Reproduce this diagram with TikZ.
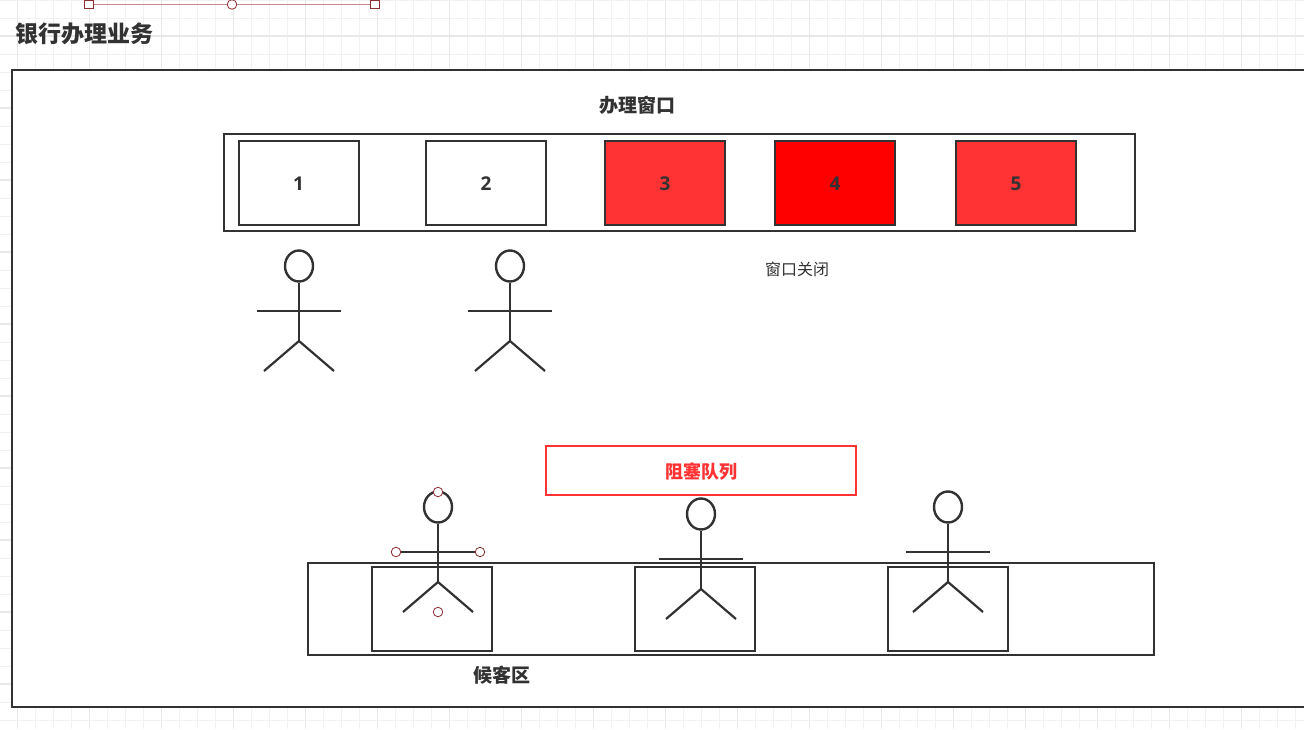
\documentclass[tikz,border=0pt]{standalone}
\usepackage{fontspec}
\setmainfont{Noto Sans CJK SC}
\newfontfamily\digitfont{Open Sans}
\usetikzlibrary{shapes.geometric}
\definecolor{ink}{HTML}{323232}
\definecolor{hred}{HTML}{8F2D33}
\definecolor{softred}{HTML}{FF3333}
\tikzset{
  x=1pt,y=-1pt,
  gridminor/.style={draw=black!5,line width=1pt},
  gridmajor/.style={draw=black!9,line width=1.1pt},
  box/.style={draw=ink,line width=1.9pt,minimum width=120pt,minimum height=84pt,inner sep=0pt,text=ink},
  digit/.style={text=ink,inner sep=0pt,font=\digitfont\bfseries\fontsize{19}{22}\selectfont},
  frame/.style={draw=ink,line width=1.9pt,fill=white},
  limb/.style={draw=ink,line width=2.2pt},
  head/.style={ellipse,draw=ink,line width=2.4pt,minimum width=28pt,minimum height=31pt,inner sep=0pt,fill=white},
  handle/.style={circle,draw=hred,line width=0.8pt,fill=white,minimum size=9.5pt,inner sep=0pt},
  squarehandle/.style={rectangle,draw=hred,line width=0.9pt,fill=white,minimum size=8.5pt,inner sep=0pt},
  heading/.style={text=ink,inner sep=0pt,font=\bfseries\fontsize{19}{22}\selectfont},
  pics/stick/.style args={#1}{code={
    \node[head] (#1h) at (0,-45) {};
    \coordinate (#1s) at (0,0);
    \coordinate (#1al) at (-42,0);
    \coordinate (#1ar) at (42,0);
    \coordinate (#1hip) at (0,30);
    \coordinate (#1fl) at (-35,60);
    \coordinate (#1fr) at (35,60);
    \draw[limb] (#1h.south) -- (#1hip);
    \draw[limb] (#1al) -- (#1ar);
    \draw[limb,line join=miter] (#1fl) -- (#1hip) -- (#1fr);
  }}
}
\begin{document}
\begin{tikzpicture}
\useasboundingbox (0,0) rectangle (1304,729);
\clip (0,0) rectangle (1304,729);
\fill[white] (0,0) rectangle (1304,729);
% grid
\foreach \i in {0,...,72} {
  \draw[gridminor] ({17.5+18*\i},0) -- ({17.5+18*\i},729);
}
\foreach \i in {0,...,40} {
  \draw[gridminor] (0,{18*\i}) -- (1304,{18*\i});
}
\foreach \i in {0,...,18} {
  \draw[gridmajor] ({17.5+72*\i},0) -- ({17.5+72*\i},729);
}
\foreach \i in {0,...,9} {
  \draw[gridmajor] (0,{36+72*\i}) -- (1304,{36+72*\i});
}
% selection handles at top
\node[squarehandle] (hl) at (89,4.5) {};
\node[handle] (hm) at (232,4.5) {};
\node[squarehandle] (hr) at (375,4.5) {};
\draw[hred!55,line width=1.1pt] (hl) -- (hm);
\draw[hred!55,line width=1.1pt] (hm) -- (hr);
% title
\node[text=ink,inner sep=0pt,anchor=west,font=\bfseries\fontsize{23}{26}\selectfont] (title) at (15,33.7) {银行办理业务};
% outer frame
\draw[frame] (12,70) rectangle (1312,707);
\node[heading] (wintitle) at (637.5,105) {办理窗口};
% window row
\draw[frame] (224,134) rectangle (1135,231);
\node[box] (w1) at (299,183) {};
\node[box] (w2) at (486,183) {};
\node[box,fill=softred] (w3) at (665,183) {};
\node[box,fill=red] (w4) at (835,183) {};
\node[box,fill=softred] (w5) at (1016,183) {};
\node[digit] (d1) at (298.5,184) {1};
\node[digit] (d2) at (486,184) {2};
\node[digit] (d3) at (665,184) {3};
\node[digit] (d4) at (835,184) {4};
\node[digit] (d5) at (1016,184) {5};
\node[text=ink,inner sep=0pt,font=\fontsize{16}{19}\selectfont] (closed) at (797,269) {窗口关闭};
% people at windows
\pic at (299,311) {stick={a}};
\pic at (510,311) {stick={b}};
% blocking queue label
\node[draw=softred,line width=2pt,minimum width=310pt,minimum height=49pt,inner sep=0pt] (queue) at (701,470.5) {};
\node[text=softred,inner sep=0pt,font=\bfseries\fontsize{18}{21}\selectfont] (queuelabel) at (701,472) {阻塞队列};
% waiting area
\draw[frame] (308,563) rectangle (1154,655);
\node[box] (s1) at (432,609) {};
\node[box] (s2) at (695,609) {};
\node[box] (s3) at (948,609) {};
\node[heading] (waiting) at (501.5,675) {候客区};
% waiting people
\pic at (438,552) {stick={c}};
\pic at (701,559) {stick={d}};
\pic at (948,552) {stick={e}};
% handles on selected figure
\node[handle] (c1) at (438,492) {};
\node[handle] (c2) at (396,552) {};
\node[handle] (c3) at (480,552) {};
\node[handle] (c4) at (438,612) {};
\end{tikzpicture}
\end{document}
